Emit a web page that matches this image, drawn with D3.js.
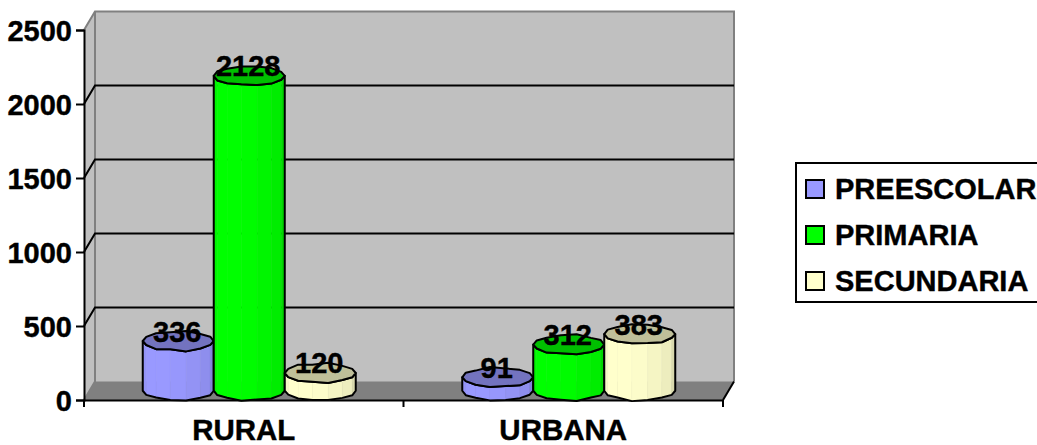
<!DOCTYPE html>
<html>
<head>
<meta charset="utf-8">
<script src="https://cdn.jsdelivr.net/npm/d3@7"></script>
<style>
  html, body { margin: 0; padding: 0; background: #fff; overflow: hidden; }
  text { font-family: "Liberation Sans", Arial, sans-serif; font-weight: bold; fill: #000; stroke: #000; stroke-width: 0.4px; }
</style>
</head>
<body>
<svg id="chart" width="1037" height="445"></svg>
<script>
const categories = ["RURAL", "URBANA"];
const seriesNames = ["PREESCOLAR", "PRIMARIA", "SECUNDARIA"];
const seriesColors = ["#9999FF", "#00FF00", "#FFFFCC"];
const preescolar = [336, 91];
const primaria = [2128, 312];
const secundaria = [120, 383];
const yTicks = [0, 500, 1000, 1500, 2000, 2500];

const seriesValues = [preescolar, primaria, secundaria];

const svg = d3.select("#chart");

// front plane of the fake 3D box, back wall sits up and to the right of it
const x0 = 84, x1 = 723, yBottom = 400, yTop = 30;
const depthX = 11, depthY = -18.5;

const y = d3.scaleLinear().domain([0, 2500]).range([yBottom, yTop]);
const x = d3.scaleBand().domain(categories).range([x0, x1]);
const inner = d3.scaleBand().domain(seriesNames).range([-106.5, 106.5]);

// left wall + back wall
svg.append("path")
  .attr("d", `M${x0},${yTop}L${x0 + depthX},${yTop + depthY}H${x1 + depthX}V${yBottom + depthY}L${x1},${yBottom}H${x0}Z`)
  .attr("fill", "#c0c0c0");
svg.append("path")
  .attr("d", `M${x0},${yBottom}L${x0 + depthX},${yBottom + depthY}V${yTop + depthY}M${x0},${yTop}L${x0 + depthX},${yTop + depthY}H${x1 + depthX}V${yBottom + depthY}`)
  .attr("fill", "none").attr("stroke", "#808080").attr("stroke-width", 2);

// floor
svg.append("path")
  .attr("d", `M${x0},${yBottom}L${x0 + depthX},${yBottom + depthY}H${x1 + depthX}L${x1},${yBottom}Z`)
  .attr("fill", "#808080");

// gridlines
yTicks.filter(d => d > 0 && d < 2500).forEach(d => {
  svg.append("path")
    .attr("d", `M${x0},${y(d)}L${x0 + depthX},${y(d) + depthY}H${x1 + depthX}`)
    .attr("fill", "none").attr("stroke", "#000").attr("stroke-width", 2);
});
svg.append("path")
  .attr("d", `M${x1},${yBottom}L${x1 + depthX},${yBottom + depthY}`)
  .attr("stroke", "#000").attr("stroke-width", 2);

// axes
const yAxis = svg.append("g")
  .attr("transform", `translate(${x0},0)`)
  .call(d3.axisLeft(y).tickValues(yTicks).tickFormat(d3.format("d")).tickSize(8).tickPadding(4));
yAxis.selectAll("text").style("font-size", "29px").attr("dy", "0.36em");
yAxis.selectAll("line, path").attr("stroke", "#000").attr("stroke-width", 2);

const xAxis = svg.append("g")
  .attr("transform", `translate(0,${yBottom})`)
  .call(d3.axisBottom(x).tickSize(0).tickPadding(19));
xAxis.selectAll("text").style("font-size", "29.5px");
xAxis.select("path").attr("stroke", "#000").attr("stroke-width", 2);
[x0, x0 + x.bandwidth(), x1].forEach(px => {
  xAxis.append("line").attr("x1", px).attr("x2", px).attr("y1", 0).attr("y2", 7)
    .attr("stroke", "#000").attr("stroke-width", 2);
});

// cylinders, coarse wobbly polygons to get the rough look of the original
const nSides = 14;
const shades = [0.97, 1, 1, 0.99, 0.96, 0.93, 0.85];
const topShade = 0.75;
const ry = 9.5;
const wobble = [1, 0.96, 1.1, 0.9, 1.12, 1, 0.92, 1, 1.05, 0.95, 1.08, 0.94, 1.04, 1];

function ring(cx, cy, rx, offset) {
  return d3.range(nSides).map(i => {
    const t = i / nSides * 2 * Math.PI;
    const k = wobble[(i + offset) % nSides];
    return [cx - rx * Math.cos(t), cy + ry * k * Math.sin(t)];
  });
}

function shade(color, k) {
  const c = d3.rgb(color);
  return d3.rgb(c.r * k, c.g * k, c.b * k).formatHex();
}

const line = d3.line();

categories.forEach((cat, ci) => {
  seriesNames.forEach((name, si) => {
    const v = seriesValues[si][ci];
    const cx = x(cat) + x.bandwidth() / 2 + depthX / 2 + inner(name) + inner.bandwidth() / 2;
    const rx = inner.bandwidth() / 2;
    const cyTop = y(v) + depthY / 2;
    const cyBot = y(0) + depthY / 2;
    const offset = si * 3 + ci * 5;
    const topPts = ring(cx, cyTop, rx, offset);
    const botPts = ring(cx, cyBot, rx, offset + 4);
    const g = svg.append("g");

    // front half of the ring is index 0..nSides/2
    const half = d3.range(nSides / 2 + 1);
    d3.range(nSides / 2).forEach(i => {
      g.append("path")
        .attr("d", line([topPts[i], topPts[i + 1], botPts[i + 1], botPts[i]]) + "Z")
        .attr("fill", shade(seriesColors[si], shades[i]))
        .attr("stroke", shade(seriesColors[si], shades[i]))
        .attr("stroke-width", 0.5);
    });

    const outline = half.map(i => botPts[i]).concat(half.slice().reverse().map(i => topPts[i]));
    g.append("path")
      .attr("d", line(outline) + "Z")
      .attr("fill", "none").attr("stroke", "#000").attr("stroke-width", 2)
      .attr("stroke-linejoin", "round");
    g.append("path")
      .attr("d", line(topPts) + "Z")
      .attr("fill", shade(seriesColors[si], topShade))
      .attr("stroke", "#000").attr("stroke-width", 2)
      .attr("stroke-linejoin", "round");
  });
});

// value labels go on top of everything
categories.forEach((cat, ci) => {
  seriesNames.forEach((name, si) => {
    const v = seriesValues[si][ci];
    svg.append("text")
      .attr("x", x(cat) + x.bandwidth() / 2 + depthX / 2 + inner(name) + inner.bandwidth() / 2 - 1)
      .attr("y", y(v) + depthY / 2 + 0.5)
      .attr("text-anchor", "middle")
      .style("font-size", "29px")
      .text(v);
  });
});

// legend
const legendY = d3.scalePoint().domain(seriesNames).range([189, 281]);
svg.append("rect")
  .attr("x", 796).attr("y", 163).attr("width", 260).attr("height", 139)
  .attr("fill", "#fff").attr("stroke", "#000").attr("stroke-width", 2);
seriesNames.forEach((name, si) => {
  svg.append("rect")
    .attr("x", 806).attr("y", legendY(name) - 9).attr("width", 18).attr("height", 18)
    .attr("fill", seriesColors[si]).attr("stroke", "#000").attr("stroke-width", 2);
  svg.append("text")
    .attr("x", 835).attr("y", legendY(name) + 10)
    .style("font-size", "29px")
    .text(name);
});
</script>
</body>
</html>
